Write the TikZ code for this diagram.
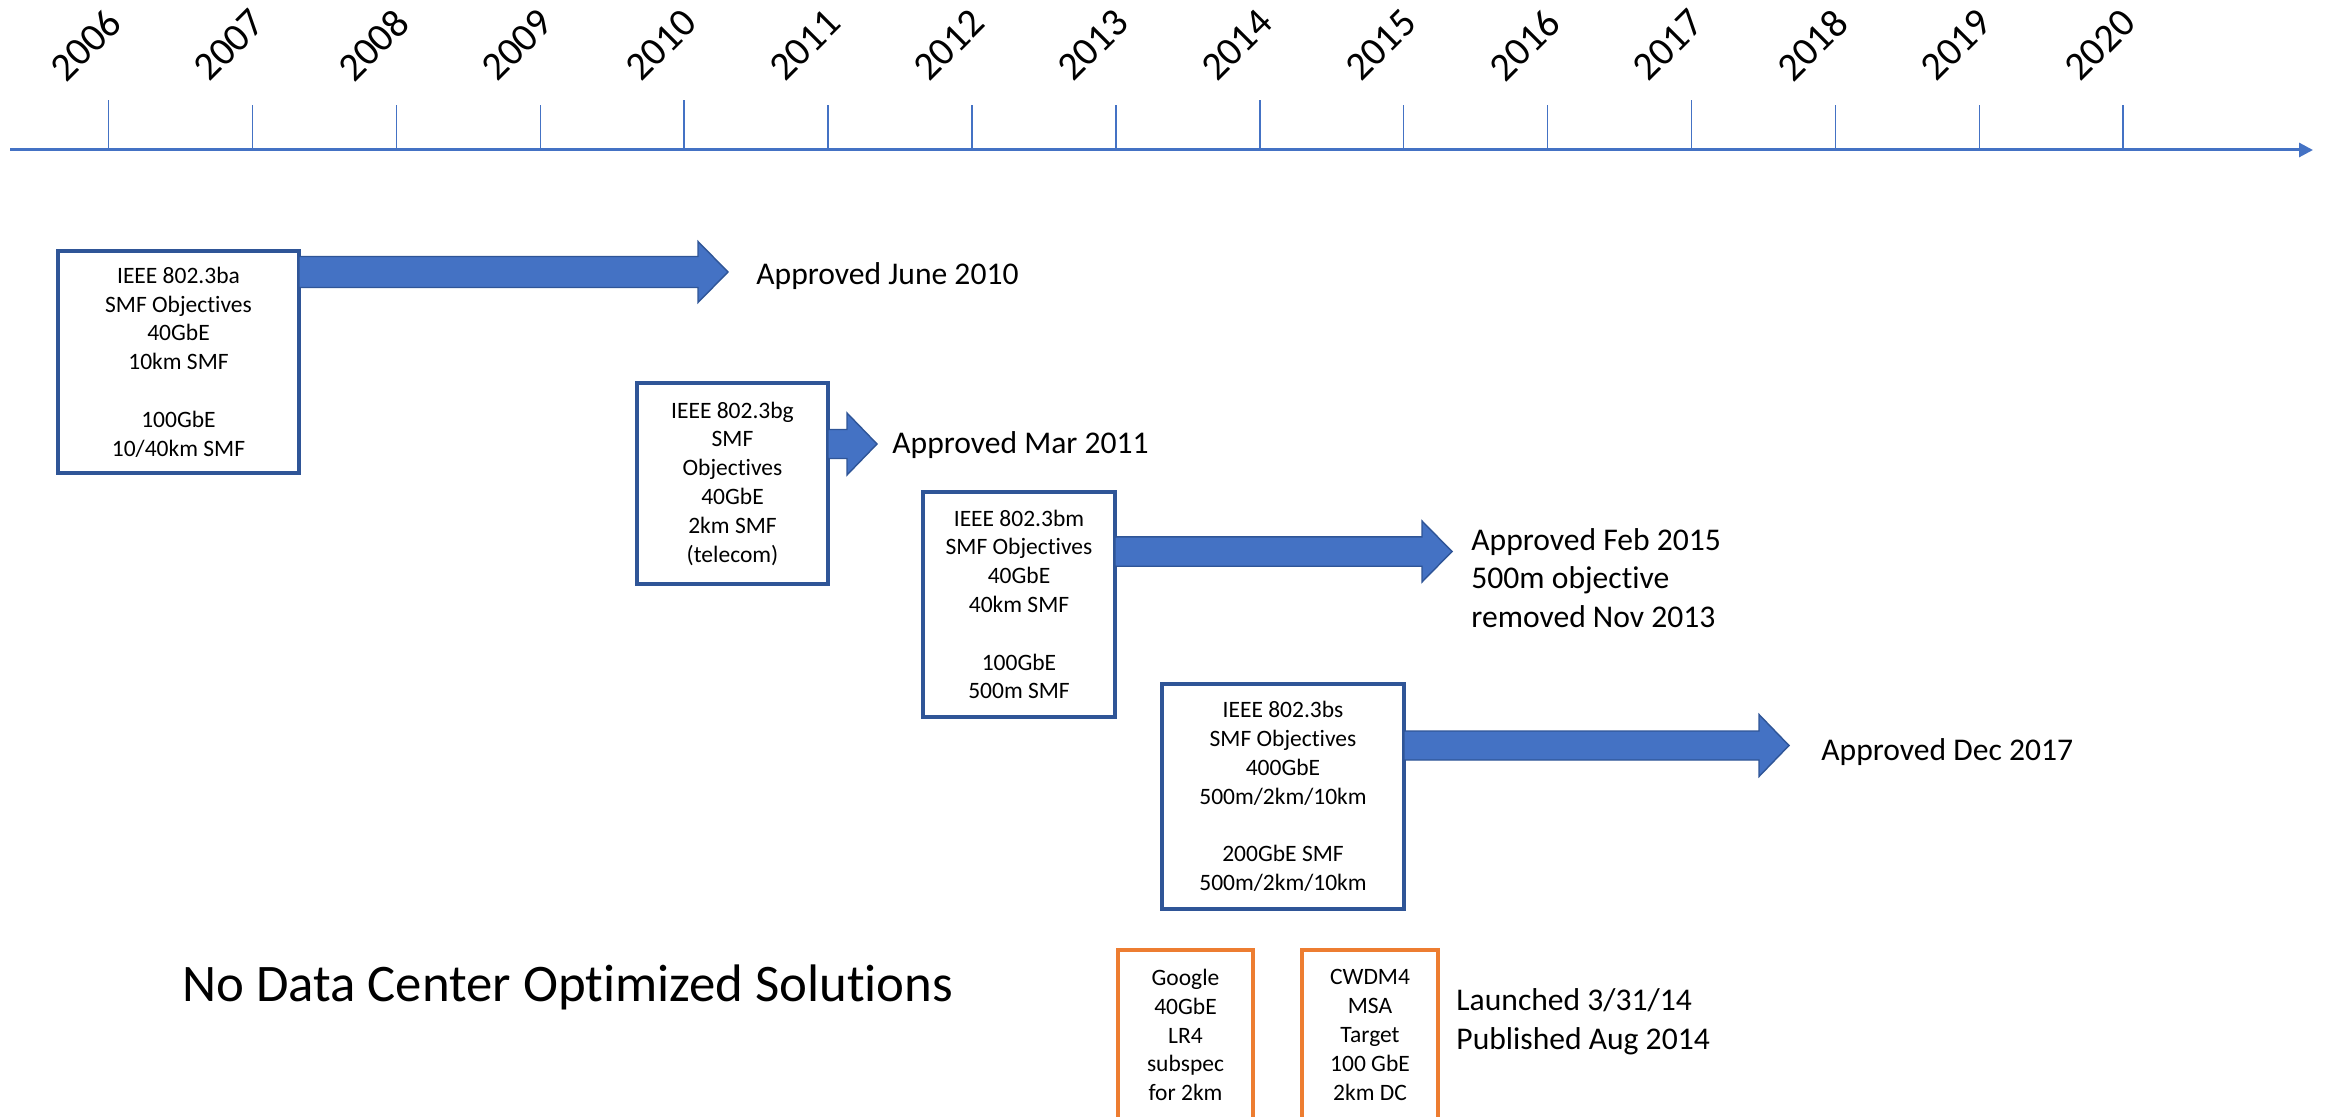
\documentclass[tikz,border=0pt]{standalone}
\usepackage{fontspec}
\setmainfont{Carlito}[Ligatures=NoCommon]
\usetikzlibrary{calc,arrows.meta}
\definecolor{axisblue}{HTML}{4472C4}
\definecolor{boxblue}{HTML}{2F5597}
\definecolor{msaorange}{HTML}{ED7D31}

% block arrow: start point, length, half shaft, half head (all in px)
\newcommand{\blockarrow}[4]{%
  \filldraw[bararrow, shift={#1}] (0,-#3) -- ({#2-30},-#3) -- ({#2-30},-#4) -- (#2,0)
    -- ({#2-30},#4) -- ({#2-30},#3) -- (0,#3) -- cycle;}

\begin{document}
\begin{tikzpicture}[x=0.5pt, y=-0.5pt,
    stdbox/.style={draw=boxblue, line width=2.2pt, fill=white, inner sep=0pt, outer sep=0pt,
      align=center, font=\fontsize{11.75}{14.4}\selectfont},
    msabox/.style={stdbox, draw=msaorange},
    bararrow/.style={fill=axisblue, draw=boxblue, line width=0.7pt},
    note/.style={anchor=west, inner sep=0pt, align=left, font=\fontsize{15.8}{19.3}\selectfont},
    year/.style={rotate=45, inner sep=0pt, font=\fontsize{20}{24}\selectfont}]

  \useasboundingbox (0,0) rectangle (2333,1117);

  % time line
  \coordinate (tl start) at (10,150);
  \coordinate (tl end) at (2313,150);
  \draw[axisblue, line width=1.5pt, -{Triangle[length=7pt,width=7pt]}] (tl start) -- (tl end);
  \foreach \i/\top in {0/100,1/105,2/105,3/105,4/100,5/105,6/105,7/105,8/100,9/105,10/105,11/100,12/105,13/105,14/105} {
    \pgfmathtruncatemacro{\yr}{2006+\i}
    \draw[axisblue, line width=0.75pt] (108.6+143.9*\i,150) -- (108.6+143.9*\i,\top);
    \node[year] (y\yr) at (85.6+143.9*\i,45) {\yr};
  }

  % standards
  \node[stdbox, minimum width=120.5pt, minimum height=111pt] (ba) at (178.5,362)
    {IEEE 802.3ba\\SMF Objectives\\40GbE\\10km SMF\\[\baselineskip]100GbE\\10/40km SMF};
  \node[stdbox, minimum width=95.5pt, minimum height=100.5pt] (bg) at (732.5,483.5)
    {IEEE 802.3bg\\SMF\\Objectives\\40GbE\\2km SMF\\(telecom)};
  \node[stdbox, minimum width=96pt, minimum height=112.5pt] (bm) at (1019,604.5)
    {IEEE 802.3bm\\SMF Objectives\\40GbE\\40km SMF\\[\baselineskip]100GbE\\500m SMF};
  \node[stdbox, minimum width=121pt, minimum height=112.5pt] (bs) at (1283,796.5)
    {IEEE 802.3bs\\SMF Objectives\\400GbE\\500m/2km/10km\\[\baselineskip]200GbE SMF\\500m/2km/10km};

  \blockarrow{($(ba.north east)+(0,21)$)}{429}{15.5}{30.5}
  \blockarrow{($(bg.north east)+(0,61)$)}{49}{14.5}{31}
  \blockarrow{($(bm.north east)+(0,59.5)$)}{337}{14.7}{30.5}
  \blockarrow{($(bs.north east)+(0,61.5)$)}{385}{14.5}{31}

  \node[note] (ok ba) at (756,276) {Approved June 2010};
  \node[note] (ok bg) at (892,445) {Approved Mar 2011};
  \node[note] (ok bm) at (1471,578) {Approved Feb 2015\\500m objective\\removed Nov 2013};
  \node[note] (ok bs) at (1821,752) {Approved Dec 2017};

  % MSAs
  \node[msabox, minimum width=67.5pt, minimum height=85pt] (lr4) at (1185.5,1035)
    {Google\\40GbE\\LR4\\subspec\\for 2km};
  \node[msabox, minimum width=68pt, minimum height=85pt] (cwdm) at (1370,1035)
    {CWDM4\\MSA\\Target\\100 GbE\\2km DC};
  \node[note] (launch) at (1456,1022) {Launched 3/31/14\\Published Aug 2014};

  \node[anchor=west, inner sep=0pt, font=\fontsize{26.4}{32}\selectfont] (none) at (182,987)
    {No Data Center Optimized Solutions};
\end{tikzpicture}
\end{document}
